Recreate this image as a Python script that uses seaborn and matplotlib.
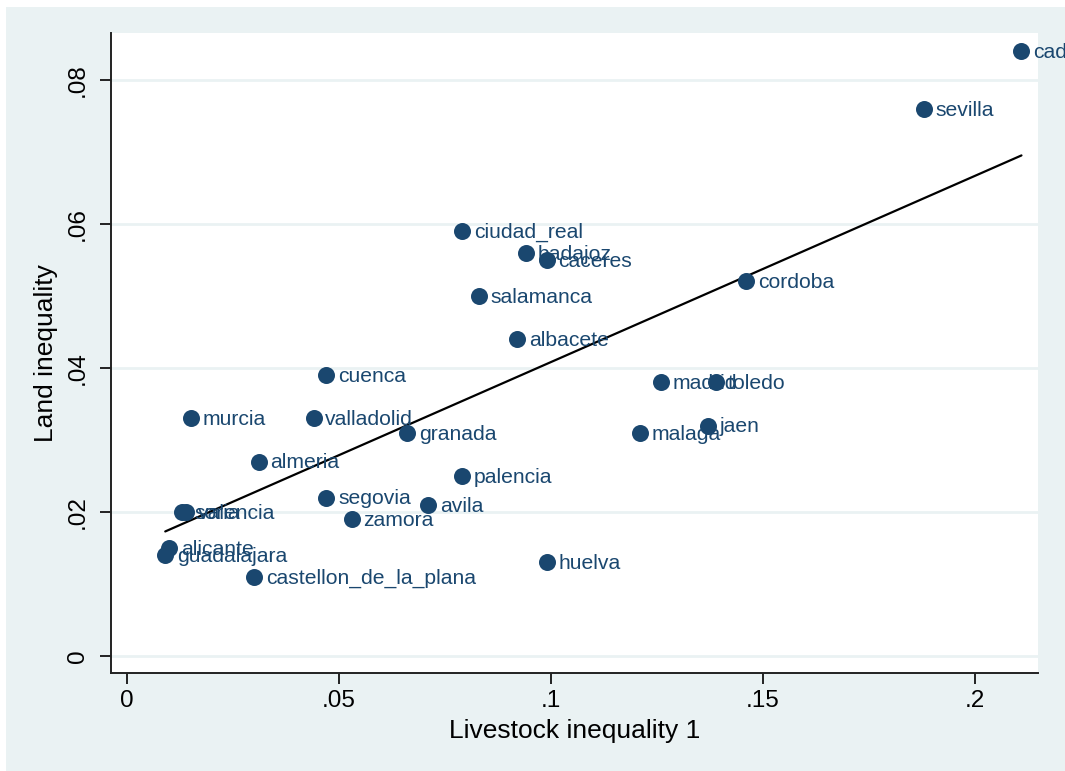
import matplotlib
matplotlib.use("Agg")
import matplotlib.pyplot as plt
import matplotlib.patches as mpatches
import numpy as np
import pandas as pd
import seaborn as sns

provinces = ["cadiz", "sevilla", "ciudad_real", "badajoz", "caceres", "cordoba",
             "salamanca", "albacete", "cuenca", "madrid", "toledo", "murcia",
             "valladolid", "granada", "malaga", "jaen", "almeria", "palencia",
             "segovia", "avila", "zamora", "soria", "valencia", "alicante",
             "guadalajara", "castellon_de_la_plana", "huelva"]
livestock_ineq = [0.211, 0.188, 0.079, 0.094, 0.099, 0.146,
                  0.083, 0.092, 0.047, 0.126, 0.139, 0.015,
                  0.044, 0.066, 0.121, 0.137, 0.031, 0.079,
                  0.047, 0.071, 0.053, 0.013, 0.014, 0.010,
                  0.009, 0.030, 0.099]
land_ineq = [0.084, 0.076, 0.059, 0.056, 0.055, 0.052,
             0.050, 0.044, 0.039, 0.038, 0.038, 0.033,
             0.033, 0.031, 0.031, 0.032, 0.027, 0.025,
             0.022, 0.021, 0.019, 0.020, 0.020, 0.015,
             0.014, 0.011, 0.013]
x_ticks = [0, 0.05, 0.1, 0.15, 0.2]
x_tick_labels = ["0", ".05", ".1", ".15", ".2"]
y_ticks = [0, 0.02, 0.04, 0.06, 0.08]
y_tick_labels = ["0", ".02", ".04", ".06", ".08"]

df = pd.DataFrame({"province": provinces, "livestock": livestock_ineq, "land": land_ineq})

sns.set_style("white")
plt.rcParams["font.family"] = ["Liberation Sans", "DejaVu Sans"]

navy = "#1a476f"
bg = "#eaf2f3"

fig = plt.figure(figsize=(10.65, 7.71), dpi=100)
fig.patch.set_facecolor("white")
fig.patches.append(mpatches.Rectangle((6 / 1065, -0.01), 1.02, 1.01 - 7 / 771,
                                      transform=fig.transFigure, facecolor=bg,
                                      edgecolor="none", zorder=-10))
ax = fig.add_axes([111 / 1065, 1 - 673 / 771, (1038 - 111) / 1065, (673 - 33) / 771])
ax.set_facecolor("white")

for yt in y_ticks:
    ax.axhline(yt, color=bg, lw=2, zorder=0)

sns.regplot(data=df, x="livestock", y="land", scatter=False, ci=None, ax=ax,
            line_kws={"color": "black", "lw": 1.6, "zorder": 2})
sns.scatterplot(data=df, x="livestock", y="land", ax=ax, s=150, color=navy,
                edgecolor=navy, linewidth=0, zorder=3, legend=False)

# marker labels sit just right of each point; they may run past the plot area
for name, xv, yv in zip(provinces, livestock_ineq, land_ineq):
    ax.annotate(name, (xv, yv), xytext=(8.5, -1), textcoords="offset points",
                ha="left", va="center", fontsize=15.2, color=navy,
                annotation_clip=False, clip_on=False, zorder=4)

ax.set_xlim(-0.0038, 0.2149)
ax.set_ylim(-0.00236, 0.0865)
ax.set_xticks(x_ticks)
ax.set_xticklabels(x_tick_labels)
ax.set_yticks(y_ticks)
ax.set_yticklabels(y_tick_labels, rotation=90, va="center")
ax.tick_params(axis="both", direction="out", length=8, width=1.4, color="#222222",
               labelsize=17.5, labelcolor="black", left=True, bottom=True)
ax.tick_params(axis="x", pad=4)
ax.tick_params(axis="y", pad=8)

for side in ["top", "right"]:
    ax.spines[side].set_visible(False)
for side in ["left", "bottom"]:
    ax.spines[side].set_color("#222222")
    ax.spines[side].set_linewidth(1.4)

ax.set_xlabel("Livestock inequality 1", fontsize=19, color="black", labelpad=5)
ax.set_ylabel("Land inequality", fontsize=19, color="black", labelpad=6)

fig.savefig("out.png", dpi=100, facecolor=fig.get_facecolor())
